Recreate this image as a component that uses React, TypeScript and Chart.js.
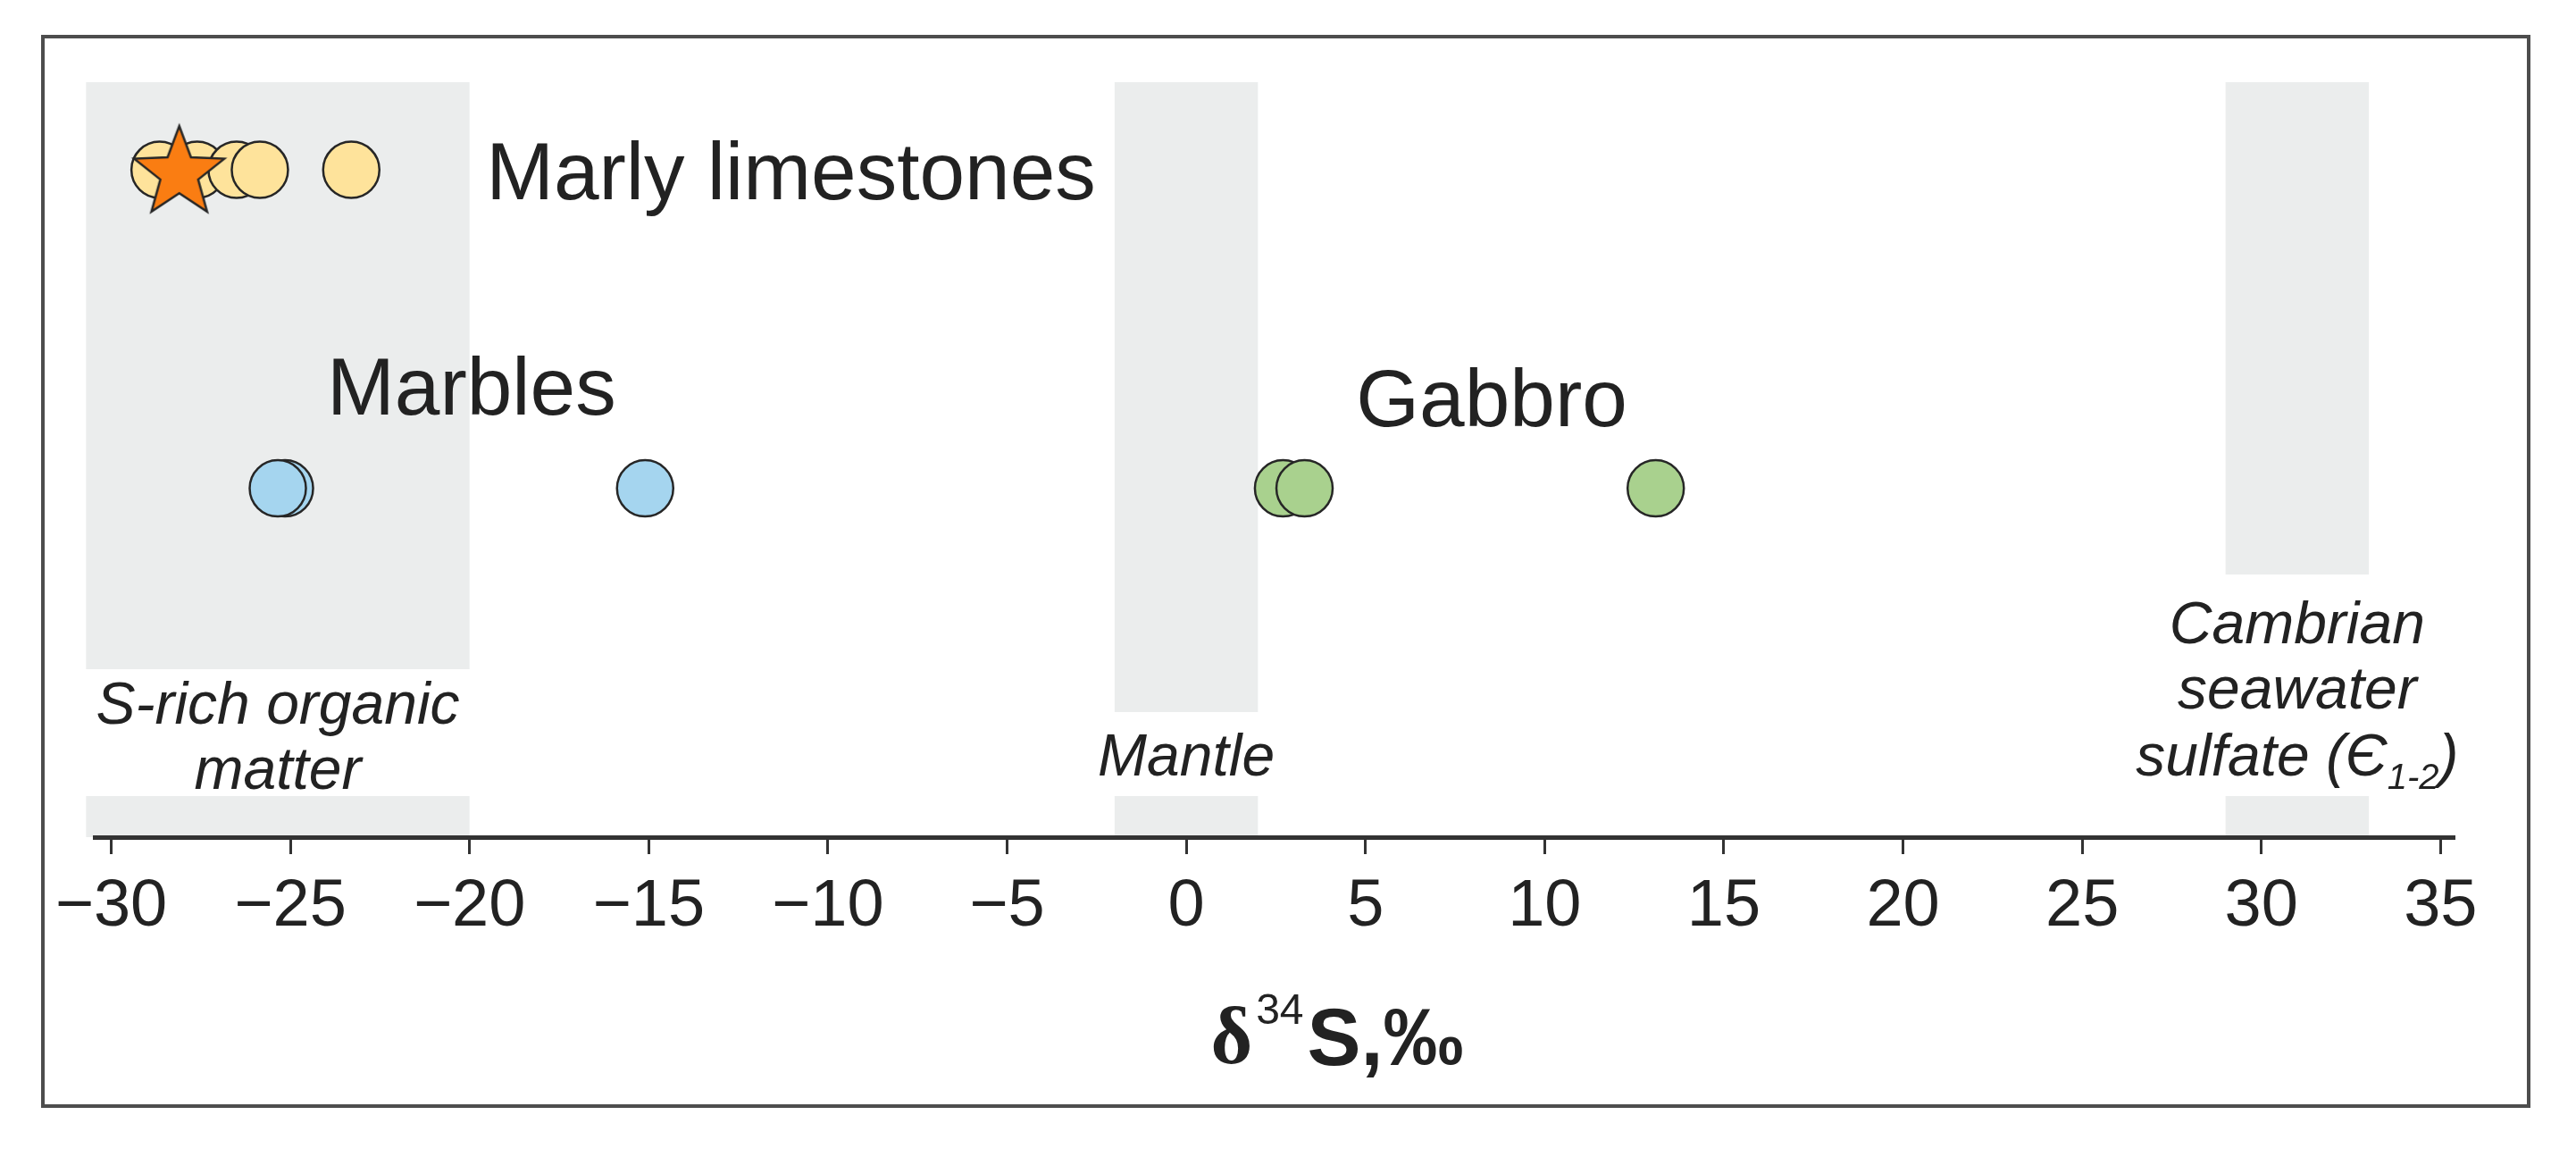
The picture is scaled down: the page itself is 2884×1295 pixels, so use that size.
import React, { useEffect, useRef } from 'react';
import { Chart, registerables } from 'chart.js';

Chart.register(...registerables);

// ---------- data ----------
const X_TICKS = [-30, -25, -20, -15, -10, -5, 0, 5, 10, 15, 20, 25, 30, 35];
const X_MIN = -30.46;
const X_MAX = 35.39;

// vertical "row" levels of the two sample rows (y scale 0..100)
const ROW_MARLY = 88.4;
const ROW_ROCKS = 46.2;

const MARLY_LIMESTONES = [-28.65, -27.6, -26.5, -25.85, -23.3];
const MARLY_STAR = [-28.1];
const MARBLES = [-25.15, -25.35, -15.1];
const GABBRO = [2.7, 3.3, 13.1];

const GROUP_NAMES = ['Marly limestones', 'Marbles', 'Gabbro'];

const BAND_FROM = [-30.7, -2, 29];
const BAND_TO = [-20, 2, 33];
const BAND_LINES: { t: string; sub?: boolean }[][][] = [
  [[{ t: 'S-rich organic' }], [{ t: 'matter' }]],
  [[{ t: 'Mantle' }]],
  [[{ t: 'Cambrian' }], [{ t: 'seawater' }], [{ t: 'sulfate (Є' }, { t: '1-2', sub: true }, { t: ')' }]],
];

const AXIS_TITLE = { delta: 'δ', iso: '34', rest: 'S,‰' };

// ---------- styles ----------
const SANS = '"Liberation Sans", Arial, Helvetica, sans-serif';
const SERIF = '"Liberation Serif", "Times New Roman", serif';
const BAND_COLOR = '#EBEDED';
const TEXT_COLOR = '#222222';
const YELLOW = '#FEE39B';
const BLUE = '#A5D5EF';
const GREEN = '#A9D18E';
const ORANGE = '#FA7D12';
const OUTLINE = '#262626';

function makeStar(): HTMLCanvasElement {
  const R = 53;
  const r = R * 0.42;
  const size = 114;
  const c = document.createElement('canvas');
  c.width = size;
  c.height = size;
  const ctx = c.getContext('2d')!;
  const cx = size / 2;
  const cy = size / 2 + 4;
  ctx.beginPath();
  for (let i = 0; i < 10; i++) {
    const rad = i % 2 === 0 ? R : r;
    const a = -Math.PI / 2 + (i * Math.PI) / 5;
    const px = cx + rad * Math.cos(a);
    const py = cy + rad * Math.sin(a);
    if (i === 0) ctx.moveTo(px, py);
    else ctx.lineTo(px, py);
  }
  ctx.closePath();
  ctx.fillStyle = ORANGE;
  ctx.fill();
  ctx.lineWidth = 2.5;
  ctx.lineJoin = 'miter';
  ctx.strokeStyle = OUTLINE;
  ctx.stroke();
  return c;
}

const backgroundPlugin = {
  id: 'bandsAndLabels',
  beforeDraw(chart: any) {
    const { ctx, chartArea: ca, scales } = chart;
    const xs = scales.x;
    const ys = scales.y;
    ctx.save();
    ctx.fillStyle = '#ffffff';
    ctx.fillRect(0, 0, chart.width, chart.height);

    // reference bands
    const layout = [
      { boxTop: 188, baselines: [127, 54] },
      { boxTop: 140, baselines: [69] },
      { boxTop: 294, baselines: [217, 144, 69] },
    ];
    BAND_FROM.forEach((from, i) => {
      const x0 = xs.getPixelForValue(from);
      const x1 = xs.getPixelForValue(BAND_TO[i]);
      ctx.fillStyle = BAND_COLOR;
      ctx.fillRect(x0, ca.top, x1 - x0, ca.bottom - ca.top);
      const L = layout[i];
      ctx.fillStyle = '#ffffff';
      ctx.fillRect(x0 - 1, ca.bottom - L.boxTop, x1 - x0 + 2, L.boxTop - 46);
      const cx = (x0 + x1) / 2;
      ctx.fillStyle = TEXT_COLOR;
      ctx.textBaseline = 'alphabetic';
      BAND_LINES[i].forEach((segs, li) => {
        const by = ca.bottom - L.baselines[li];
        const fonts = segs.map((s) => (s.sub ? `italic 40px ${SANS}` : `italic 66px ${SANS}`));
        let total = 0;
        const widths = segs.map((s, k) => {
          ctx.font = fonts[k];
          const w = ctx.measureText(s.t).width;
          total += w;
          return w;
        });
        let x = cx - total / 2;
        ctx.textAlign = 'left';
        segs.forEach((s, k) => {
          ctx.font = fonts[k];
          ctx.fillText(s.t, x, s.sub ? by + 15 : by);
          x += widths[k];
        });
      });
    });

    // group labels
    ctx.font = `91px ${SANS}`;
    ctx.fillStyle = TEXT_COLOR;
    ctx.textAlign = 'left';
    ctx.textBaseline = 'alphabetic';
    ctx.fillText(GROUP_NAMES[0], xs.getPixelForValue(-19.54), ys.getPixelForValue(84.5));
    ctx.fillText(GROUP_NAMES[1], xs.getPixelForValue(-23.98), ys.getPixelForValue(56.0));
    ctx.fillText(GROUP_NAMES[2], xs.getPixelForValue(4.74), ys.getPixelForValue(54.4));
    ctx.restore();
  },
  afterDraw(chart: any) {
    const { ctx, chartArea: ca } = chart;
    ctx.save();
    // axis title  δ34S,‰
    const fD = `bold 90px ${SERIF}`;
    const fI = `48px ${SANS}`;
    const fR = `bold 90px ${SANS}`;
    ctx.font = fD;
    const wD = ctx.measureText(AXIS_TITLE.delta).width;
    ctx.font = fI;
    const wI = ctx.measureText(AXIS_TITLE.iso).width;
    ctx.font = fR;
    const wR = ctx.measureText(AXIS_TITLE.rest).width;
    const gap1 = 4;
    const gap2 = 4;
    const total = wD + gap1 + wI + gap2 + wR;
    const cx = (ca.left + ca.right) / 2 + 70;
    const base = ca.bottom + 253;
    let x = cx - total / 2;
    ctx.fillStyle = TEXT_COLOR;
    ctx.textAlign = 'left';
    ctx.textBaseline = 'alphabetic';
    ctx.font = fD;
    ctx.fillText(AXIS_TITLE.delta, x, base);
    x += wD + gap1;
    ctx.font = fI;
    ctx.fillText(AXIS_TITLE.iso, x, base - 44);
    x += wI + gap2;
    ctx.font = fR;
    ctx.fillText(AXIS_TITLE.rest, x, base + 2);

    // outer frame
    ctx.strokeStyle = '#4d4d4d';
    ctx.lineWidth = 4;
    ctx.strokeRect(48, 41, 2783, 1197);
    ctx.restore();
  },
};

export default function App() {
  const ref = useRef<HTMLCanvasElement | null>(null);

  useEffect(() => {
    document.body.style.margin = '0';
    const canvas = ref.current!;
    const star = makeStar();
    const pt = (xs: number[], y: number) => xs.map((x) => ({ x, y }));
    const circle = (label: string, data: any[], color: string, order: number) => ({
      label,
      data,
      pointStyle: 'circle',
      pointRadius: 31.5,
      pointHoverRadius: 31.5,
      backgroundColor: color,
      borderColor: OUTLINE,
      borderWidth: 2.5,
      pointBorderWidth: 2.5,
      showLine: false,
      clip: false,
      order,
    });
    const chart = new Chart(canvas, {
      type: 'scatter',
      data: {
        datasets: [
          {
            label: 'Marly limestones (star)',
            data: pt(MARLY_STAR, ROW_MARLY),
            pointStyle: star as any,
            pointRadius: 30,
            pointHoverRadius: 30,
            backgroundColor: ORANGE,
            borderColor: OUTLINE,
            showLine: false,
            clip: false as any,
            order: 0,
          },
          circle(GROUP_NAMES[0], pt(MARLY_LIMESTONES, ROW_MARLY), YELLOW, 1),
          circle(GROUP_NAMES[1], pt(MARBLES, ROW_ROCKS), BLUE, 2),
          circle(GROUP_NAMES[2], pt(GABBRO, ROW_ROCKS), GREEN, 3),
        ] as any,
      },
      options: {
        responsive: false,
        maintainAspectRatio: false,
        animation: false,
        devicePixelRatio: 1,
        events: [],
        layout: { padding: { left: 106, right: 136, top: 92, bottom: 258 } },
        plugins: {
          legend: { display: false },
          tooltip: { enabled: false },
          title: { display: false },
        },
        scales: {
          x: {
            type: 'linear',
            position: 'bottom',
            min: X_MIN,
            max: X_MAX,
            afterBuildTicks: (scale: any) => {
              scale.ticks = X_TICKS.map((v) => ({ value: v }));
            },
            afterFit: (scale: any) => {
              scale.height = 100;
            },
            grid: {
              display: true,
              drawOnChartArea: false,
              drawTicks: true,
              tickLength: 19,
              tickWidth: 3,
              tickColor: '#333333',
              color: '#333333',
            },
            border: { display: true, color: '#333333', width: 5 },
            ticks: {
              autoSkip: false,
              maxRotation: 0,
              padding: 15,
              color: TEXT_COLOR,
              font: { family: SANS, size: 74 },
              callback: (v: any) => (Number(v) < 0 ? '\u2212' + Math.abs(Number(v)) : String(v)),
            },
          },
          y: {
            type: 'linear',
            display: false,
            min: 0,
            max: 100,
          },
        },
      } as any,
      plugins: [backgroundPlugin],
    });
    return () => chart.destroy();
  }, []);

  return (
    <canvas
      ref={ref}
      width={2884}
      height={1295}
      style={{ display: 'block', width: '2884px', height: '1295px' }}
    />
  );
}
